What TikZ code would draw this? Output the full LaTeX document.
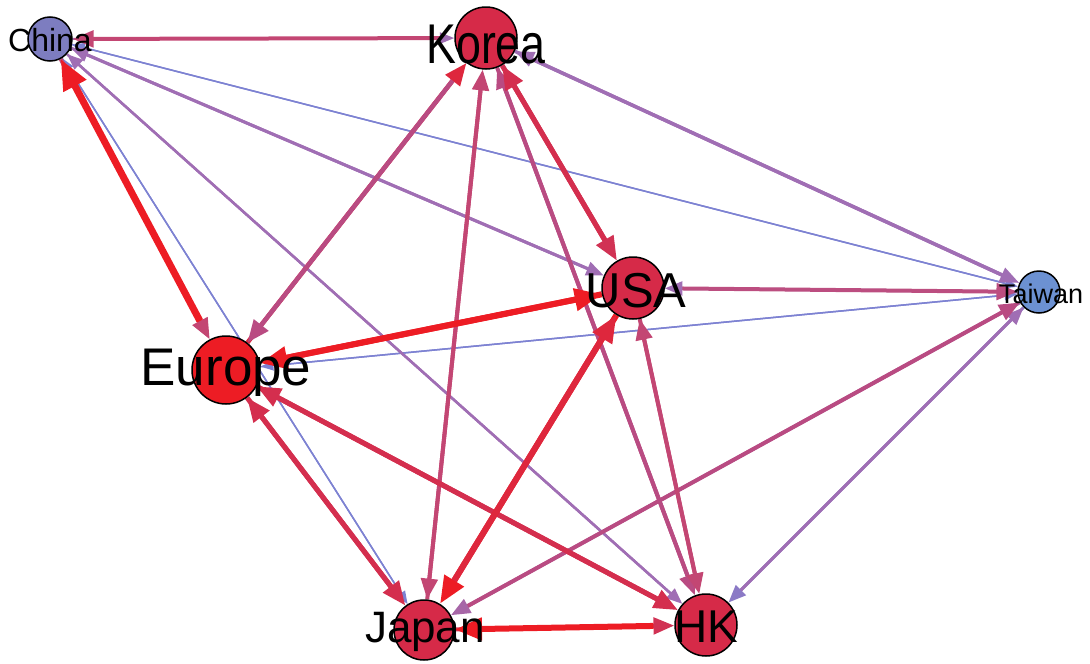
\documentclass[tikz,border=0pt]{standalone}
\usepackage{fontspec}
\setmainfont{Liberation Sans}
\usetikzlibrary{arrows.meta}
\pgfdeclarelayer{edges}
\pgfdeclarelayer{labels}
\pgfsetlayers{edges,main,labels}
\definecolor{cRed}{RGB}{237,28,36}
\definecolor{cCrim}{RGB}{212,46,78}
\definecolor{cMag}{RGB}{195,70,115}
\definecolor{cMauve}{RGB}{185,75,130}
\definecolor{cPurp}{RGB}{160,110,180}
\definecolor{cLav}{RGB}{125,130,210}
\definecolor{nChina}{RGB}{125,125,192}
\definecolor{nTaiwan}{RGB}{108,145,210}
\definecolor{nCrim}{RGB}{214,42,72}
\definecolor{nRed}{RGB}{237,28,36}
\tikzset{
  vert/.style 2 args={circle, draw=black, line width=1.5pt, fill=#1, minimum size=#2, inner sep=0pt},
  lab/.style={anchor=base, inner sep=0pt, text=black},
  e/.style={line cap=butt, -{Triangle[length=8pt 3.2, width=6pt 2.6]}},
}
\begin{document}
\begin{tikzpicture}[x=1pt, y=-1pt]
\useasboundingbox (0,0) rectangle (1090,664);
% vertices
\node[vert={nChina}{44pt}]  (ch) at (50,39) {};
\node[vert={nCrim}{62pt}]   (ko) at (486,38) {};
\node[vert={nCrim}{62pt}]   (us) at (633,288) {};
\node[vert={nTaiwan}{42pt}] (tw) at (1039,292) {};
\node[vert={nRed}{68pt}]    (eu) at (226,370) {};
\node[vert={nCrim}{60pt}]   (ja) at (424,630) {};
\node[vert={nCrim}{62pt}]   (hk) at (706,625) {};
% edges
\begin{pgfonlayer}{edges}
% thin ones
\draw[e, color=cLav, line width=1.5pt] (ch) -- (ja);
\draw[e, color=cLav, line width=1.5pt, shorten <=12.8pt] (ja) -- (ch);
\draw[e, color=cLav, line width=1.5pt] (ch) -- (tw);
\draw[e, color=cLav, line width=1.5pt, shorten <=12.8pt] (tw) -- (ch);
\draw[e, color=cLav, line width=1.5pt] (eu) -- (tw);
\draw[e, color=cLav, line width=1.5pt, shorten <=12.8pt] (tw) -- (eu);
\draw[e, color=cPurp, line width=2.5pt] (ch) -- (hk);
\draw[e, color=cPurp, line width=2.5pt, shorten <=16pt] (hk) -- (ch);
\draw[e, color=cPurp, line width=3pt] (ch) -- (us);
\draw[e, color=cPurp, line width=3pt, shorten <=17.6pt] (us) -- (ch);
\draw[e, color=cPurp, line width=3.5pt] (ko) -- (tw);
\draw[e, color=cPurp, line width=3.5pt, shorten <=19.2pt] (tw) -- (ko);
\draw[e, color=cLav!60!cPurp, line width=3pt] (tw) -- (hk);
\draw[e, color=cPurp, line width=3pt, shorten <=17.6pt] (hk) -- (tw);
\draw[e, color=cPurp!80!cMag, line width=3.5pt] (tw) -- (ja);
\draw[e, color=cMauve, line width=4pt, shorten <=19.2pt] (ja) -- (tw);
\draw[e, color=cPurp, line width=3pt] (tw) -- (us);
\draw[e, color=cMag!80!cPurp, line width=4pt, shorten <=17.6pt] (us) -- (tw);
% medium
\draw[e, color=cPurp, line width=2pt] (ch) -- (ko);
\draw[e, color=cMag, line width=4pt, shorten <=14.4pt] (ko) -- (ch);
\draw[e, color=cMauve, line width=4pt] (ko) -- (hk);
\draw[e, color=cMauve, line width=4pt, shorten <=20.8pt] (hk) -- (ko);
\draw[e, color=cMag, line width=4pt] (ja) -- (ko);
\draw[e, color=cMag, line width=4pt, shorten <=20.8pt] (ko) -- (ja);
\draw[e, color=cMag, line width=4pt] (us) -- (hk);
\draw[e, color=cMag, line width=4pt, shorten <=20.8pt] (hk) -- (us);
\draw[e, color=cCrim!60!cRed, line width=4.5pt] (eu) -- (ko);
\draw[e, color=cMauve, line width=4.5pt, shorten <=22.4pt] (ko) -- (eu);
\draw[e, color=cCrim!85!cMag, line width=5pt] (ko) -- (us);
\draw[e, color=cCrim, line width=5pt, shorten <=24pt] (us) -- (ko);
\draw[e, color=cCrim, line width=5pt] (eu) -- (ja);
\draw[e, color=cCrim, line width=5pt, shorten <=24pt] (ja) -- (eu);
\draw[e, color=cCrim, line width=5pt] (eu) -- (hk);
\draw[e, color=cCrim, line width=5pt, shorten <=24pt] (hk) -- (eu);
% thick red
\draw[e, color=cMag, line width=4pt] (ch) -- (eu);
\draw[e, color=cRed, line width=7pt, shorten <=20.8pt] (eu) -- (ch);
\draw[e, color=cRed, line width=6pt] (us) -- (eu);
\draw[e, color=cRed, line width=6pt, shorten <=27.2pt] (eu) -- (us);
\draw[e, color=cRed, line width=6pt] (us) -- (ja);
\draw[e, color=cCrim!60!cRed, line width=6pt, shorten <=27.2pt] (ja) -- (us);
\draw[e, color=cCrim!85!cMag, line width=4pt] (ja) -- (hk);
\draw[e, color=cRed, line width=6pt, shorten <=20.8pt] (hk) -- (ja);
\end{pgfonlayer}
% labels
\begin{pgfonlayer}{labels}
\node[lab, font=\fontsize{32}{32}\selectfont] (chl) at (50,51) {China};
\node[lab, font=\fontsize{56}{56}\selectfont, xscale=0.8] (kol) at (486,63) {Korea};
\node[lab, font=\fontsize{49}{49}\selectfont] (usl) at (636,307) {USA};
\node[lab, font=\fontsize{27}{27}\selectfont] (twl) at (1041,303) {Taiwan};
\node[lab, font=\fontsize{53}{53}\selectfont] (eul) at (226,385) {Europe};
\node[lab, font=\fontsize{44}{44}\selectfont] (jal) at (425,642) {Japan};
\node[lab, font=\fontsize{46}{46}\selectfont] (hkl) at (706,642) {HK};
\end{pgfonlayer}
\end{tikzpicture}
\end{document}
